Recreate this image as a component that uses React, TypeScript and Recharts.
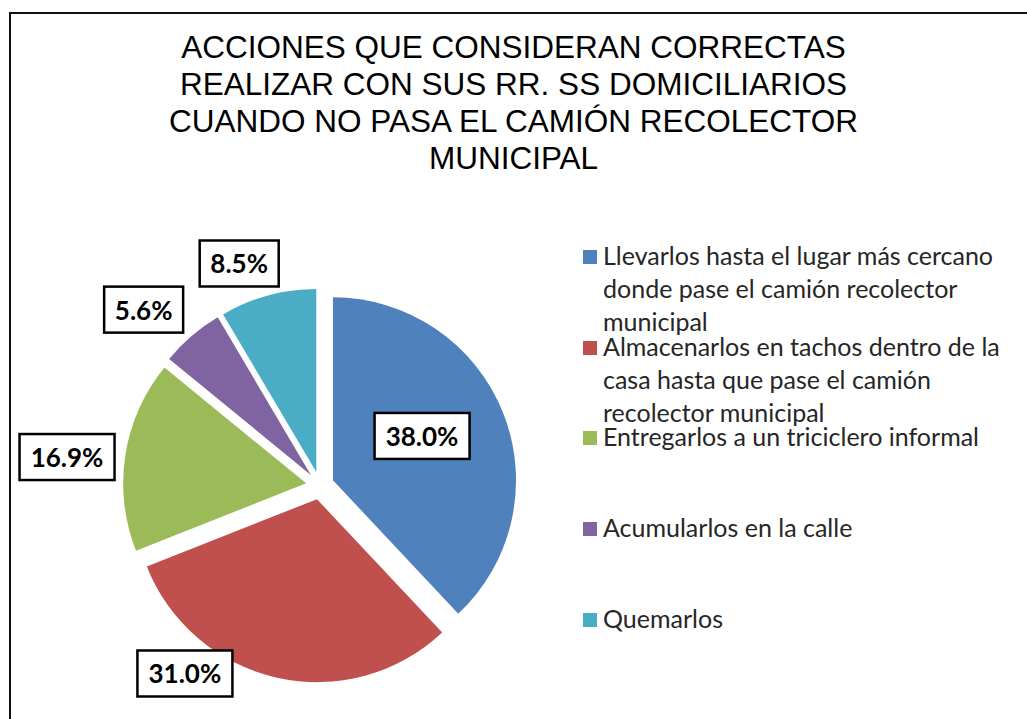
import React from 'react';
import { PieChart, Pie, Cell, Legend, Sector, Tooltip } from 'recharts';

const TITLE_LINES = [
  'ACCIONES QUE CONSIDERAN CORRECTAS',
  'REALIZAR CON SUS RR. SS DOMICILIARIOS',
  'CUANDO NO PASA EL CAMIÓN RECOLECTOR',
  'MUNICIPAL',
];

const CATEGORIES = [
  'Llevarlos hasta el lugar más cercano donde pase el camión recolector municipal',
  'Almacenarlos en tachos dentro de la casa hasta que pase el camión recolector municipal',
  'Entregarlos a un triciclero informal',
  'Acumularlos en la calle',
  'Quemarlos',
];

const VALUES = [38.0, 31.0, 16.9, 5.6, 8.5];

const COLORS = ['#4F81BD', '#C0504D', '#9BBB59', '#8064A2', '#4BACC6'];

// label placement (angle shift in degrees, distance in radius units) – Excel "best fit"
const LABEL_PLACEMENT = [
  { shift: 4.3, r: 0.62 },
  { shift: -23.1, r: 1.265 },
  { shift: 2.4, r: 1.391 },
  { shift: 4.4, r: 1.361 },
  { shift: 4.7, r: 1.291 },
];

const EXPLODE = 14;
const RADIAN = Math.PI / 180;

const data = CATEGORIES.map((name, i) => ({ name, value: VALUES[i] }));

const renderExploded = (props: any) => {
  const { cx, cy, innerRadius, outerRadius, startAngle, endAngle, fill } = props;
  const mid = props.midAngle !== undefined ? props.midAngle : (startAngle + endAngle) / 2;
  const dx = EXPLODE * Math.cos(-mid * RADIAN);
  const dy = EXPLODE * Math.sin(-mid * RADIAN);
  return (
    <Sector
      cx={cx + dx}
      cy={cy + dy}
      innerRadius={innerRadius}
      outerRadius={outerRadius}
      startAngle={startAngle}
      endAngle={endAngle}
      fill={fill}
      stroke="none"
    />
  );
};

const renderLabel = (props: any) => {
  const { cx, cy, midAngle, outerRadius, index, value } = props;
  const p = LABEL_PLACEMENT[index];
  const ang = (midAngle + p.shift) * RADIAN;
  const x = cx + outerRadius * p.r * Math.cos(-ang);
  const y = cy + outerRadius * p.r * Math.sin(-ang);
  const text = `${Number(value).toFixed(1)}%`;
  const w = 16 * text.length + 15;
  const h = 46;
  return (
    <g key={`lbl-${index}`}>
      <rect x={x - w / 2} y={y - h / 2} width={w} height={h} fill="#fff" stroke="#000" strokeWidth={2.5} />
      <text
        x={x}
        y={y}
        textAnchor="middle"
        dominantBaseline="central"
        fontFamily="Lato, 'Noto Sans', sans-serif"
        fontWeight="bold"
        fontSize={26}
        fill="#000"
      >
        {text}
      </text>
    </g>
  );
};

const renderLegend = (props: any) => {
  const payload = [...(props.payload || [])].sort(
    (a: any, b: any) => CATEGORIES.indexOf(a.value) - CATEGORIES.indexOf(b.value)
  );
  return (
    <div style={{ fontFamily: "Lato, 'Noto Sans', sans-serif" }}>
      {payload.map((entry: any, i: number) => (
        <div key={`leg-${i}`} style={{ position: 'relative', height: 90.7 }}>
          <span
            style={{
              position: 'absolute',
              left: 0,
              top: 11,
              width: 14,
              height: 14,
              background: entry.color,
            }}
          />
          <div
            style={{
              position: 'absolute',
              left: 20,
              top: 0,
              width: 410,
              fontSize: 25,
              lineHeight: '33px',
              color: '#262626',
            }}
          >
            {entry.value}
          </div>
        </div>
      ))}
    </div>
  );
};

export default function App() {
  return (
    <div style={{ position: 'absolute', left: 0, top: 0, width: 1027, height: 719, background: '#fff', overflow: 'hidden' }}>
      <div
        style={{
          position: 'absolute',
          left: 9,
          top: 12,
          width: 1018,
          height: 707,
          borderTop: '2px solid #111',
          borderLeft: '2px solid #111',
          boxSizing: 'border-box',
        }}
      />
      <div
        style={{
          position: 'absolute',
          left: 0,
          top: 29,
          width: 1027,
          textAlign: 'center',
          fontFamily: "'Liberation Sans', Arial, sans-serif",
          fontSize: 31.5,
          lineHeight: '37px',
          color: '#000',
        }}
      >
        {TITLE_LINES.map((t, i) => (
          <div key={i}>{t}</div>
        ))}
      </div>
      <div style={{ position: 'absolute', left: 0, top: 0 }}>
        <PieChart width={1027} height={719} margin={{ top: 0, right: 0, bottom: 0, left: 0 }}>
          <Pie
            data={data}
            dataKey="value"
            nameKey="name"
            cx={320}
            cy={485.5}
            outerRadius={183}
            startAngle={90}
            endAngle={-270}
            stroke="none"
            isAnimationActive={false}
            labelLine={false}
            label={renderLabel}
            shape={renderExploded}
            activeShape={renderExploded}
            inactiveShape={renderExploded}
          >
            {data.map((_, i) => (
              <Cell key={`c-${i}`} fill={COLORS[i]} stroke="none" />
            ))}
          </Pie>
          <Tooltip defaultIndex={0} content={() => null} cursor={false} />
          <Legend
            layout="vertical"
            align="right"
            verticalAlign="top"
            content={renderLegend}
            wrapperStyle={{ position: 'absolute', left: 583, right: 'auto', top: 239, width: 440 }}
          />
        </PieChart>
      </div>
    </div>
  );
}
